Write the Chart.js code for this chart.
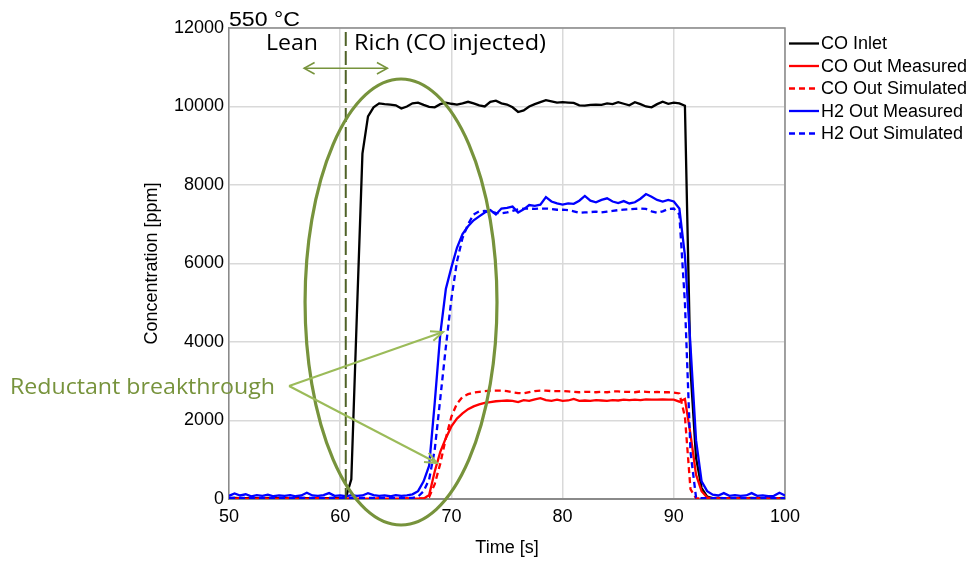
<!DOCTYPE html>
<html>
<head>
<meta charset="utf-8">
<script src="https://cdn.jsdelivr.net/npm/chart.js@4"></script>
<style>
  html, body { margin: 0; padding: 0; background: #fff; }
  #wrap { width: 971px; height: 561px; position: relative; }
</style>
</head>
<body>
<div id="wrap"><canvas id="chart"></canvas></div>
<script>
// time axis [s]
const time = [
  50, 50.5, 51, 51.5, 52, 52.5, 53, 53.5, 54, 54.5,
  55, 55.5, 56, 56.5, 57, 57.5, 58, 58.5, 59, 59.5,
  60, 60.5, 61, 61.5, 62, 62.5, 63, 63.5, 64, 64.5,
  65, 65.5, 66, 66.5, 67, 67.5, 68, 68.5, 69, 69.5,
  70, 70.5, 71, 71.5, 72, 72.5, 73, 73.5, 74, 74.5,
  75, 75.5, 76, 76.5, 77, 77.5, 78, 78.5, 79, 79.5,
  80, 80.5, 81, 81.5, 82, 82.5, 83, 83.5, 84, 84.5,
  85, 85.5, 86, 86.5, 87, 87.5, 88, 88.5, 89, 89.5,
  90, 90.5, 91, 91.5, 92, 92.5, 93, 93.5, 94, 94.5,
  95, 95.5, 96, 96.5, 97, 97.5, 98, 98.5, 99, 99.5,
  100
]

const coInlet = [
  20, 30, 20, 20, 30, 20, 20, 30, 20, 20,
  30, 20, 20, 30, 20, 20, 30, 20, 20, 30,
  20, 30, 500, 4700, 8800, 9750, 9980, 10080, 10060, 10050,
  10030, 9950, 10000, 10080, 10100, 10040, 9990, 9980, 10060, 10100,
  10070, 10050, 10080, 10120, 10080, 10030, 10000, 10120, 10150, 10080,
  10050, 9980, 9860, 9900, 10000, 10060, 10110, 10160, 10130, 10100,
  10110, 10100, 10090, 10030, 10020, 10040, 10050, 10040, 10080, 10060,
  10110, 10070, 10030, 10110, 10060, 10000, 9980, 10060, 10120, 10070,
  10100, 10080, 10020, 3300, 1050, 280, 60, 20, 30, 20,
  20, 30, 20, 20, 30, 20, 20, 30, 20, 20,
  30
]

const coMeasured = [
  10, 10, 20, 10, 10, 10, 20, 10, 10, 10,
  10, 20, 10, 10, 10, 10, 20, 10, 10, 10,
  10, 10, 20, 10, 10, 10, 10, 20, 10, 10,
  10, 10, 20, 10, 10, 10, 100, 700, 1200, 1550,
  1850, 2050, 2180, 2290, 2360, 2410, 2450, 2470, 2490, 2500,
  2510, 2500, 2470, 2520, 2500, 2540, 2570, 2520, 2500, 2530,
  2500, 2510, 2550, 2500, 2510, 2500, 2520, 2510, 2500, 2520,
  2510, 2530, 2520, 2530, 2520, 2540, 2530, 2530, 2540, 2530,
  2530, 2480, 2550, 1650, 620, 200, 40, 10, 10, 10,
  10, 10, 10, 10, 10, 10, 10, 10, 10, 10,
  10
]

const coSimulated = [
  15, 15, 15, 15, 15, 15, 15, 15, 15, 15,
  15, 15, 15, 15, 15, 15, 15, 15, 15, 15,
  15, 15, 15, 15, 15, 15, 15, 15, 15, 15,
  15, 15, 15, 15, 15, 15, 50, 380, 900, 1550,
  2100, 2430, 2600, 2670, 2710, 2730, 2750, 2760, 2760, 2760,
  2750, 2720, 2700, 2690, 2720, 2750, 2760, 2760, 2750, 2750,
  2750, 2740, 2730, 2720, 2730, 2730, 2720, 2730, 2720, 2740,
  2740, 2730, 2730, 2720, 2740, 2730, 2720, 2730, 2720, 2720,
  2710, 2690, 2100, 250, 20, 15, 15, 15, 15, 15,
  15, 15, 15, 15, 15, 15, 15, 15, 15, 15,
  15
]

const h2Measured = [
  80, 140, 90, 120, 70, 100, 80, 110, 70, 90,
  80, 100, 70, 90, 160, 90, 80, 100, 150, 80,
  90, 70, 100, 80, 90, 150, 100, 80, 90, 70,
  100, 80, 90, 120, 200, 450, 850, 2450, 4200, 5350,
  5900, 6400, 6750, 6950, 7100, 7200, 7300, 7360, 7250, 7400,
  7420, 7450, 7300, 7380, 7490, 7470, 7500, 7690, 7580, 7530,
  7500, 7530, 7520, 7600, 7720, 7600, 7560, 7620, 7660, 7580,
  7540, 7590, 7530, 7560, 7650, 7770, 7700, 7620, 7580, 7620,
  7580, 7400, 6200, 3900, 1500, 450, 200, 110, 90, 150,
  80, 100, 80, 90, 150, 80, 90, 70, 80, 160,
  90
]

const h2Simulated = [
  30, 30, 30, 30, 30, 30, 30, 30, 30, 30,
  30, 30, 30, 30, 30, 30, 30, 30, 30, 30,
  30, 30, 30, 30, 30, 30, 30, 30, 30, 30,
  30, 30, 30, 30, 60, 200, 500, 1250, 2560, 3870,
  5100, 6050, 6650, 7000, 7250, 7330, 7340, 7320, 7290, 7280,
  7300, 7340, 7380, 7400, 7400, 7390, 7400, 7400, 7390, 7370,
  7370, 7360, 7330, 7290, 7300, 7310, 7320, 7300, 7320, 7340,
  7360, 7370, 7380, 7390, 7400, 7390, 7330, 7290, 7330, 7390,
  7400, 7250, 5000, 1200, 40, 20, 20, 20, 20, 20,
  20, 20, 20, 20, 20, 20, 20, 20, 20, 20,
  20
]

const xTicks = [50, 60, 70, 80, 90, 100]
const yTicks = [0, 2000, 4000, 6000, 8000, 10000, 12000]

const seriesNames = ['CO Inlet', 'CO Out Measured', 'CO Out Simulated', 'H2 Out Measured', 'H2 Out Simulated']
const seriesValues = [coInlet, coMeasured, coSimulated, h2Measured, h2Simulated]
const seriesColors = ['#000000', '#ff0000', '#ff0000', '#0000ff', '#0000ff']
const seriesDashed = [false, false, true, false, true]

const OLIVE = '#77933c'
const LIGHT_GREEN = '#9bbb59'
const DARK_OLIVE = '#4f6228'

// draws text stretched to a given width (the source figure was scaled horizontally)
function fitText(ctx, text, x, y, font, width, color) {
  ctx.save()
  ctx.font = font
  ctx.fillStyle = color
  ctx.textBaseline = 'alphabetic'
  ctx.textAlign = 'left'
  const w = ctx.measureText(text).width
  ctx.translate(x, y)
  ctx.scale(width / w, 1)
  ctx.fillText(text, 0, 0)
  ctx.restore()
}

function openHead(ctx, fx, fy, tx, ty, len, spread) {
  const a = Math.atan2(ty - fy, tx - fx)
  ctx.beginPath()
  ctx.moveTo(tx - len * Math.cos(a - spread), ty - len * Math.sin(a - spread))
  ctx.lineTo(tx, ty)
  ctx.lineTo(tx - len * Math.cos(a + spread), ty - len * Math.sin(a + spread))
  ctx.stroke()
}

const frameBox = {
  id: 'frameBox',
  beforeDatasetsDraw(chart) {
    const { ctx, chartArea: a } = chart
    ctx.save()
    ctx.strokeStyle = '#8a8a8a'
    ctx.lineWidth = 1.5
    ctx.beginPath()
    ctx.moveTo(a.left, a.top)
    ctx.lineTo(a.right, a.top)
    ctx.lineTo(a.right, a.bottom)
    ctx.stroke()
    ctx.restore()
  }
}

const sideLegend = {
  id: 'sideLegend',
  afterDraw(chart) {
    const { ctx, chartArea: a } = chart
    ctx.save()
    chart.data.datasets.forEach((ds, i) => {
      const y = a.top + 15.5 + i * 22.5
      ctx.strokeStyle = ds.borderColor
      ctx.lineWidth = 2.3
      ctx.setLineDash(ds.borderDash || [])
      ctx.beginPath()
      ctx.moveTo(a.right + 4, y)
      ctx.lineTo(a.right + 34, y)
      ctx.stroke()
      ctx.setLineDash([])
      ctx.fillStyle = '#000'
      ctx.font = '18px "Liberation Sans", Arial, sans-serif'
      ctx.textBaseline = 'middle'
      ctx.fillText(ds.label, a.right + 36, y + 1)
    })
    ctx.restore()
  }
}

const notes = {
  id: 'notes',
  afterDraw(chart) {
    const { ctx, chartArea: a } = chart
    const sx = chart.scales.x, sy = chart.scales.y
    const px = v => sx.getPixelForValue(v)
    const py = v => sy.getPixelForValue(v)
    ctx.save()

    fitText(ctx, '550 °C', a.left, a.top - 2, '20px "Liberation Sans", Arial, sans-serif', 71, '#000')
    fitText(ctx, 'Lean', px(53.33), py(11440), '21px "Open Sans", sans-serif', 52, '#000')
    fitText(ctx, 'Rich (CO injected)', px(61.24), py(11440), '21px "Open Sans", sans-serif', 192, '#000')

    // lean / rich switch
    ctx.strokeStyle = DARK_OLIVE
    ctx.lineWidth = 2
    ctx.setLineDash([14, 5])
    ctx.beginPath()
    ctx.moveTo(px(60.5), py(11900))
    ctx.lineTo(px(60.5), py(0))
    ctx.stroke()
    ctx.setLineDash([])

    // double arrow
    ctx.strokeStyle = OLIVE
    ctx.lineWidth = 1.5
    const ay = py(10975), ax1 = px(56.75), ax2 = px(64.25)
    ctx.beginPath()
    ctx.moveTo(ax1, ay)
    ctx.lineTo(ax2, ay)
    ctx.stroke()
    openHead(ctx, ax2, ay, ax1, ay, 12, 0.5)
    openHead(ctx, ax1, ay, ax2, ay, 12, 0.5)

    // ellipse round the breakthrough
    const cx = px(65.47), cy = py(5019)
    const rx = px(65.47 + 8.63) - cx, ry = cy - py(5019 + 5682)
    ctx.strokeStyle = OLIVE
    ctx.lineWidth = 3.2
    ctx.beginPath()
    ctx.ellipse(cx, cy, rx, ry, 0, 0, Math.PI * 2)
    ctx.stroke()

    fitText(ctx, 'Reductant breakthrough', px(30.3), py(2675), '21px "Open Sans", sans-serif', 265, OLIVE)

    // pointers
    ctx.strokeStyle = LIGHT_GREEN
    ctx.lineWidth = 2
    const sxp = px(55.4), syp = py(2879)
    const tips = [[69.24, 4255], [68.7, 917]]
    tips.forEach(([t, v]) => {
      ctx.beginPath()
      ctx.moveTo(sxp, syp)
      ctx.lineTo(px(t), py(v))
      ctx.stroke()
      openHead(ctx, sxp, syp, px(t), py(v), 13, 0.4)
    })
    ctx.restore()
  }
}

const datasets = seriesNames.map((name, k) => ({
  label: name,
  data: time.map((t, i) => ({ x: t, y: seriesValues[k][i] })),
  borderColor: seriesColors[k],
  borderWidth: 2.3,
  borderDash: seriesDashed[k] ? [6, 4] : [],
  pointRadius: 0,
  tension: 0,
  fill: false,
  order: 5 - k
}))

new Chart(document.querySelector('#chart'), {
  type: 'line',
  data: { datasets },
  options: {
    responsive: true,
    maintainAspectRatio: false,
    animation: false,
    events: [],
    layout: { padding: { left: 137, right: 186, top: 28, bottom: 0 } },
    plugins: {
      legend: { display: false },
      tooltip: { enabled: false }
    },
    scales: {
      x: {
        type: 'linear',
        min: 50,
        max: 100,
        afterBuildTicks: scale => { scale.ticks = xTicks.map(v => ({ value: v })) },
        afterFit: scale => { scale.height = 62 },
        ticks: {
          padding: 7,
          color: '#000',
          callback: v => String(v),
          font: { family: '"Liberation Sans", Arial, sans-serif', size: 18 }
        },
        grid: { color: '#d9d9d9', lineWidth: 1.5, drawTicks: false },
        border: { display: true, color: '#8a8a8a', width: 2 },
        title: {
          display: true,
          text: 'Time [s]',
          color: '#000',
          padding: { top: 4, bottom: 2 },
          font: { family: '"Liberation Sans", Arial, sans-serif', size: 18 }
        }
      },
      y: {
        min: 0,
        max: 12000,
        afterBuildTicks: scale => { scale.ticks = yTicks.map(v => ({ value: v })) },
        afterFit: scale => { scale.width = 92 },
        ticks: {
          padding: 5,
          color: '#000',
          callback: v => String(v),
          font: { family: '"Liberation Sans", Arial, sans-serif', size: 18 }
        },
        grid: { color: '#d9d9d9', lineWidth: 1.5, drawTicks: false },
        border: { display: true, color: '#8a8a8a', width: 1.5 },
        title: {
          display: true,
          text: 'Concentration [ppm]',
          color: '#000',
          padding: { top: 4, bottom: 4 },
          font: { family: '"Liberation Sans", Arial, sans-serif', size: 18 }
        }
      }
    }
  },
  plugins: [frameBox, sideLegend, notes]
})
</script>
</body>
</html>
